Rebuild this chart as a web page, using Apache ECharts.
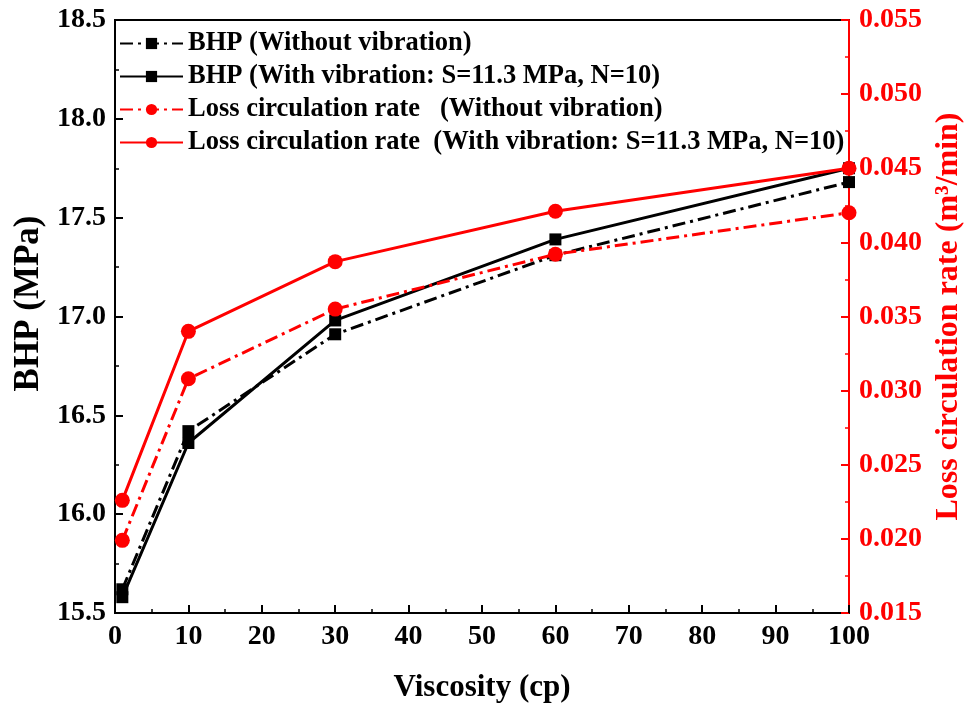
<!DOCTYPE html>
<html>
<head>
<meta charset="utf-8">
<script src="https://cdn.jsdelivr.net/npm/echarts@6/dist/echarts.min.js"></script>
<style>
  html, body { margin: 0; padding: 0; background: #fff; }
  #chart { width: 967px; height: 704px; }
</style>
</head>
<body>
<div id="chart"></div>
<script>
  // viscosity (cp)
  const viscosity = [1, 10, 30, 60, 100]
  // BHP (MPa)
  const bhpWithout = [15.62, 16.42, 16.91, 17.31, 17.68]
  const bhpWith = [15.58, 16.36, 16.98, 17.39, 17.75]
  // loss circulation rate (m3/min)
  const lossWithout = [0.0199, 0.0308, 0.0355, 0.0392, 0.0420]
  const lossWith = [0.0226, 0.0340, 0.0387, 0.0421, 0.0450]

  const names = [
    'BHP (Without vibration)',
    'BHP (With vibration: S=11.3 MPa, N=10)',
    'Loss circulation rate   (Without vibration)',
    'Loss circulation rate  (With vibration: S=11.3 MPa, N=10)'
  ]

  const font = 'Liberation Serif'
  const dashDot = [13, 5, 3, 5]
  const pairs = (ys) => viscosity.map((x, i) => [x, ys[i]])

  const chart = echarts.init(document.getElementById('chart'))
  chart.setOption({
    animation: false,
    textStyle: { fontFamily: font, fontWeight: 'bold' },
    grid: {
      left: 115, right: 118, top: 20, bottom: 91,
      outerBoundsMode: 'none',
      containLabel: false,
      show: true, borderColor: '#000', borderWidth: 2
    },
    legend: {
      orient: 'vertical',
      left: 119, top: 30, padding: 0,
      itemWidth: 63, itemHeight: 14, itemGap: 6,
      textStyle: { fontFamily: font, fontWeight: 'bold', fontSize: 26.5, color: '#000' },
      data: names
    },
    xAxis: {
      type: 'value',
      min: 0, max: 100, interval: 10,
      name: 'Viscosity (cp)',
      nameLocation: 'middle',
      nameGap: 59,
      nameTextStyle: { fontFamily: font, fontWeight: 'bold', fontSize: 31, color: '#000' },
      axisLine: { lineStyle: { color: '#000', width: 2 } },
      axisTick: { inside: true, length: 8, lineStyle: { width: 2 } },
      minorTick: { show: true, splitNumber: 2, length: 4, lineStyle: { color: '#000', width: 1.5 } },
      axisLabel: { fontFamily: font, fontWeight: 'bold', fontSize: 28, color: '#000', margin: 10 },
      splitLine: { show: false }
    },
    yAxis: [
      {
        type: 'value',
        min: 15.5, max: 18.5, interval: 0.5,
        name: 'BHP (MPa)',
        nameLocation: 'middle',
        nameRotate: 90,
        nameGap: 66,
        nameTextStyle: { fontFamily: font, fontWeight: 'bold', fontSize: 35, color: '#000', padding: [0, 0, 0, 26] },
        axisLine: { lineStyle: { color: '#000', width: 2 } },
        axisTick: { inside: true, length: 8, lineStyle: { width: 2 } },
        minorTick: { show: true, splitNumber: 2, length: 4, lineStyle: { color: '#000', width: 1.5 } },
        axisLabel: {
          fontFamily: font, fontWeight: 'bold', fontSize: 28, color: '#000', margin: 9,
          formatter: (v) => v.toFixed(1)
        },
        splitLine: { show: false }
      },
      {
        type: 'value',
        position: 'right',
        min: 0.015, max: 0.055, interval: 0.005,
        name: 'Loss circulation rate (m³/min)',
        nameLocation: 'middle',
        nameRotate: 90,
        nameGap: 84,
        nameTextStyle: { fontFamily: font, fontWeight: 'bold', fontSize: 32, color: '#ff0000' },
        axisLine: { show: true, lineStyle: { color: '#ff0000', width: 2 } },
        axisTick: { inside: true, length: 8, lineStyle: { width: 2 } },
        minorTick: { show: true, splitNumber: 2, length: 4, lineStyle: { color: '#ff0000', width: 1.5 } },
        axisLabel: {
          fontFamily: font, fontWeight: 'bold', fontSize: 28, color: '#ff0000', margin: 10,
          formatter: (v) => v.toFixed(3)
        },
        splitLine: { show: false }
      }
    ],
    series: [
      {
        name: names[0], type: 'line', yAxisIndex: 0,
        data: pairs(bhpWithout),
        symbol: 'rect', symbolSize: 12,
        itemStyle: { color: '#000' },
        lineStyle: { color: '#000', width: 3, type: dashDot },
        z: 2
      },
      {
        name: names[1], type: 'line', yAxisIndex: 0,
        data: pairs(bhpWith),
        symbol: 'rect', symbolSize: 12,
        itemStyle: { color: '#000' },
        lineStyle: { color: '#000', width: 3 },
        z: 3
      },
      {
        name: names[2], type: 'line', yAxisIndex: 1,
        data: pairs(lossWithout),
        symbol: 'circle', symbolSize: 15,
        itemStyle: { color: '#ff0000' },
        lineStyle: { color: '#ff0000', width: 3, type: dashDot },
        z: 4
      },
      {
        name: names[3], type: 'line', yAxisIndex: 1,
        data: pairs(lossWith),
        symbol: 'circle', symbolSize: 15,
        itemStyle: { color: '#ff0000' },
        lineStyle: { color: '#ff0000', width: 3 },
        z: 5
      }
    ]
  })
</script>
</body>
</html>
